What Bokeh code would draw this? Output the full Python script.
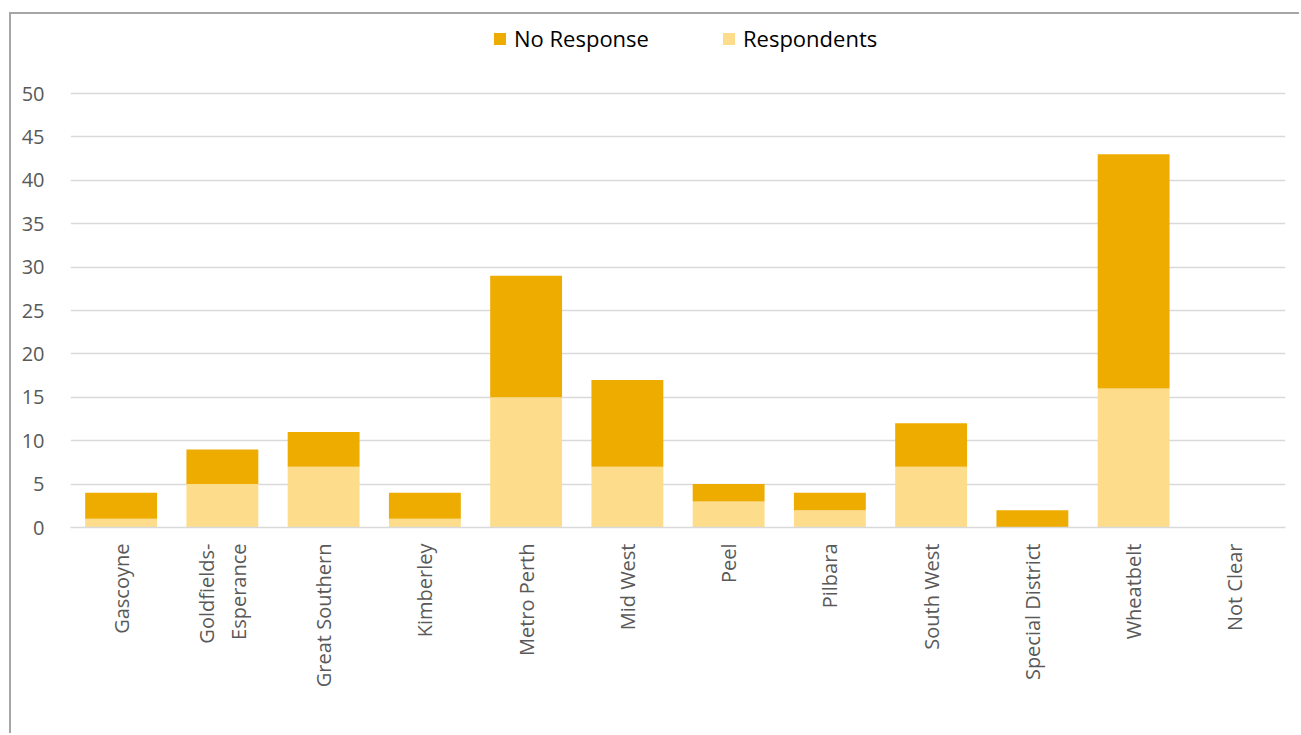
import numpy as np
from bokeh.plotting import figure
from bokeh.models import ColumnDataSource, Legend, LegendItem, FactorRange
from bokeh.embed import file_html
from bokeh.resources import INLINE

regions = ["Gascoyne", "Goldfields-\nEsperance", "Great Southern", "Kimberley",
           "Metro Perth", "Mid West", "Peel", "Pilbara", "South West",
           "Special District", "Wheatbelt", "Not Clear"]
respondents = [1, 5, 7, 1, 15, 7, 3, 2, 7, 0, 16, 0]
no_response = [3, 4, 4, 3, 14, 10, 2, 2, 5, 2, 27, 0]
y_ticks = [0, 5, 10, 15, 20, 25, 30, 35, 40, 45, 50]

FONT = "Open Sans"
DARK = "#EEAC00"
LIGHT = "#FDDD8B"

src = ColumnDataSource(dict(region=regions, Respondents=respondents,
                            NoResponse=no_response))

p = figure(x_range=FactorRange(factors=regions), y_range=(0, 503 * 50 / 434),
           width=1290, height=721, output_backend="svg", toolbar_location=None,
           min_border_left=59, min_border_right=16, min_border_top=10,
           min_border_bottom=208, margin=(12, 0, 0, 9))
p.styles = {"border-left": "2px solid #a6a6a6", "border-top": "2px solid #a6a6a6"}

r = p.vbar_stack(["Respondents", "NoResponse"], x="region", width=0.71,
                 color=[LIGHT, DARK], line_color=None, source=src)

p.outline_line_color = None
p.xgrid.grid_line_color = None
p.ygrid.grid_line_color = "#d9d9d9"
p.ygrid.grid_line_width = 1.5
p.yaxis.ticker = y_ticks
p.yaxis.axis_line_color = None
p.yaxis.major_tick_line_color = None
p.yaxis.minor_tick_line_color = None
p.yaxis.major_label_text_font = FONT
p.yaxis.major_label_text_font_size = "20px"
p.yaxis.major_label_text_color = "#595959"
p.yaxis.major_label_standoff = 20

p.xaxis.axis_line_color = "#d9d9d9"
p.xaxis.axis_line_width = 1.5
p.xaxis.major_tick_line_color = None
p.xaxis.minor_tick_line_color = None
p.xaxis.major_label_orientation = np.pi / 2
p.xaxis.major_label_text_font = FONT
p.xaxis.major_label_text_font_size = "20px"
p.xaxis.major_label_text_color = "#595959"
p.xaxis.major_label_standoff = 10
p.x_range.range_padding = 0
p.x_range.group_padding = 0

legend = Legend(items=[LegendItem(label="No Response", renderers=[r[1]]),
                       LegendItem(label="Respondents", renderers=[r[0]])],
                orientation="horizontal", location=(422, 474),
                border_line_color=None, background_fill_alpha=0,
                padding=0, margin=0, spacing=72, label_standoff=7,
                glyph_width=15, glyph_height=15,
                label_text_font=FONT, label_text_font_size="22px",
                label_text_color="#000000")
p.add_layout(legend, "center")

open("out.html", "w").write(file_html(p, INLINE))
